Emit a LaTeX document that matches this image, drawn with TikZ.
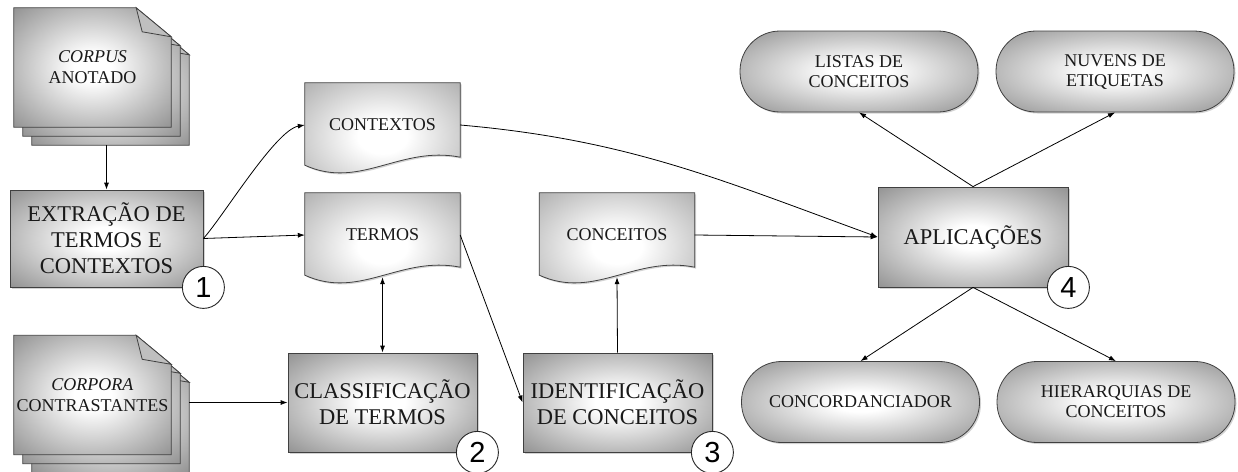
\documentclass[tikz,border=0pt]{standalone}
\usepackage{fontspec}
\setmainfont{Liberation Serif}
\newfontfamily\labelfont{Liberation Serif}
\newfontfamily\numfont{Liberation Sans}
\usetikzlibrary{arrows.meta,calc,shadows,backgrounds}

\pgfdeclareradialshading{softgray}{\pgfpoint{0bp}{0bp}}{color(0bp)=(white); color(6bp)=(white);
  color(35bp)=(black!42); color(50bp)=(black!58)}
\pgfdeclareradialshading{softdoc}{\pgfpoint{0bp}{0bp}}{color(0bp)=(white); color(8bp)=(white);
  color(35bp)=(black!30); color(50bp)=(black!42)}

% folha com canto dobrado
\newcommand{\docpage}[1]{%
  \shade[pagefill] (#1.north west) -- ($(#1.north east)+(-35,0)$) -- ($(#1.north east)+(0,29)$)
    -- (#1.south east) -- (#1.south west) -- cycle;
  \filldraw[draw=black!75, line width=0.8pt, fill=black!25] ($(#1.north east)+(-35,0)$)
    -- ($(#1.north east)+(-29,24)$) -- ($(#1.north east)+(0,29)$) -- cycle;}
% documento com base ondulada
\newcommand{\wavedoc}[1]{%
  \shade[docfill] (#1.north west) -- (#1.north east) -- ($(#1.south east)+(0,-10)$)
    .. controls ($(#1.south east)+(-60,-22)$) and ($(#1.south west)+(55,23)$) .. ($(#1.south west)+(0,-2)$)
    -- cycle;}

\tikzset{
  shadowed/.style={drop shadow={shadow xshift=1.5pt, shadow yshift=-1.5pt, opacity=0.35}},
  box/.style={rectangle, draw=black!75, line width=0.8pt, shade, shading=softgray,
    shadowed, align=center, text=black!90, font=\labelfont\fontsize{22.5}{26}\selectfont},
  app/.style={rectangle, rounded corners=40pt, draw=black!75, line width=0.8pt, shade, shading=softgray,
    shadowed, minimum width=238pt, minimum height=81pt, align=center,
    text=black!90, font=\labelfont\fontsize{18}{20}\selectfont},
  docnode/.style={rectangle, minimum width=155pt, minimum height=84pt, inner sep=0pt, align=center,
    text=black!90, font=\labelfont\fontsize{18}{20}\selectfont},
  pagenode/.style={rectangle, minimum width=157pt, minimum height=119pt, inner sep=0pt, align=center,
    text=black!90, font=\labelfont\fontsize{18}{21}\selectfont},
  docfill/.style={draw=black!75, line width=0.8pt, shading=softdoc, shadowed},
  pagefill/.style={draw=black!75, line width=0.8pt, shading=softgray},
  num/.style={circle, draw=black!85, line width=0.9pt, fill=white, minimum size=42pt, inner sep=0pt,
    font=\numfont\fontsize{29}{29}\selectfont},
  arr/.style={-{Latex[length=7pt,width=5pt]}, line width=0.8pt},
  dbl/.style={{Latex[length=7pt,width=5pt]}-{Latex[length=7pt,width=5pt]}, line width=0.8pt}
}

\begin{document}
\begin{tikzpicture}[x=1pt, y=-1pt]
  \useasboundingbox (0,0) rectangle (1238,471);

  % corpora (pilhas de folhas)
  \node[pagenode] (corpus) at (92.5,67.5) {\textit{CORPUS}\\ANOTADO};
  \node[pagenode] (corpus-2) at ($(corpus)+(9,9)$) {};
  \node[pagenode] (corpus-3) at ($(corpus)+(18,18)$) {};
  \node[pagenode] (corpora) at (92.5,395) {\textit{CORPORA}\\CONTRASTANTES};
  \node[pagenode] (corpora-2) at ($(corpora)+(9,9)$) {};
  \node[pagenode] (corpora-3) at ($(corpora)+(18,18)$) {};

  % etapas
  \node[box, minimum width=193pt, minimum height=97pt] (extracao) at (106.5,238.5) {EXTRAÇÃO DE\\TERMOS E\\CONTEXTOS};
  \node[box, minimum width=189pt, minimum height=99pt] (classif) at (382.5,402.5) {CLASSIFICAÇÃO\\DE TERMOS};
  \node[box, minimum width=189pt, minimum height=99pt] (identif) at (617.5,402.5) {IDENTIFICAÇÃO\\DE CONCEITOS};
  \node[box, minimum width=190pt, minimum height=100pt] (aplic) at (973,237) {APLICAÇÕES};

  % documentos
  \node[docnode] (contextos) at (382.5,125) {CONTEXTOS};
  \node[docnode] (termos) at (382.5,235) {TERMOS};
  \node[docnode] (conceitos) at (617,235) {CONCEITOS};

  % aplicações
  \node[app] (listas) at (859,71.5) {LISTAS DE\\CONCEITOS};
  \node[app] (nuvens) at (1115,71.5) {NUVENS DE\\ETIQUETAS};
  \node[app] (concord) at (860.5,402) {CONCORDANCIADOR};
  \node[app] (hierarq) at (1116,402) {HIERARQUIAS DE\\CONCEITOS};

  \begin{scope}[on background layer]
    \docpage{corpus-3} \docpage{corpus-2} \docpage{corpus}
    \docpage{corpora-3} \docpage{corpora-2} \docpage{corpora}
    \wavedoc{contextos} \wavedoc{termos} \wavedoc{conceitos}
  \end{scope}

  % setas
  \draw[arr] (corpus-3.south -| extracao.north) -- (extracao.north);
  \draw[arr] (extracao.east) to[out=48, in=190, looseness=0.5] (contextos.west);
  \draw[arr] (extracao.east) -- (termos.west);
  \draw[dbl] (termos.south) -- (classif.north);
  \draw[arr] (corpora-3.east |- classif.west) -- (classif.west);
  \draw[arr] (termos.east) -- (identif.west);
  \draw[arr] (identif.north) -- (conceitos.south);
  \draw[arr] (conceitos.east) -- (aplic.west);
  \draw[arr] (contextos.east) to[out=-5, in=160] (aplic.west);
  \draw[arr] (aplic.north) -- (listas.south);
  \draw[arr] (aplic.north) -- (nuvens.south);
  \draw[arr] (aplic.south) -- (concord.north);
  \draw[arr] (aplic.south) -- (hierarq.north);

  % numeração das etapas
  \node[num] (n1) at (extracao.south east) {1};
  \node[num] (n2) at (classif.south east) {2};
  \node[num] (n3) at (identif.south east) {3};
  \node[num] (n4) at (aplic.south east) {4};
\end{tikzpicture}
\end{document}
